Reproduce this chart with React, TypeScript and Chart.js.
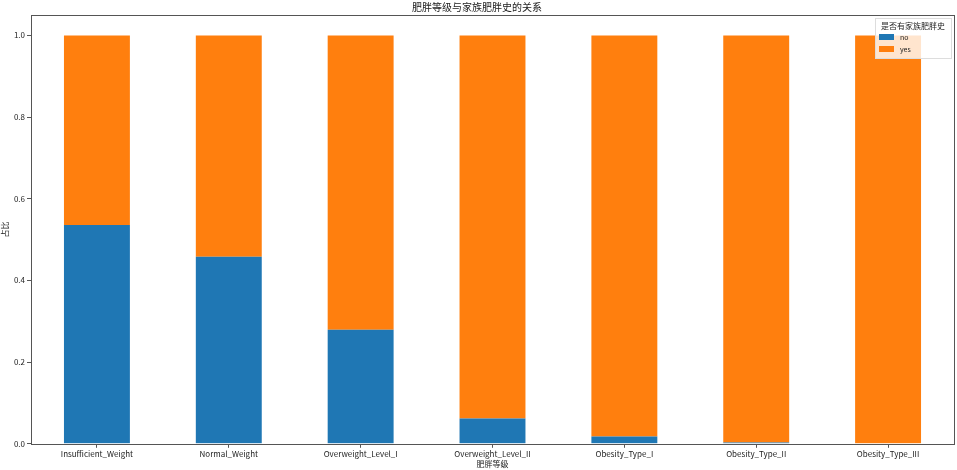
import { useEffect, useRef } from "react";
import { Chart, registerables } from "chart.js";

Chart.register(...registerables);

const categories = [
  "Insufficient_Weight",
  "Normal_Weight",
  "Overweight_Level_I",
  "Overweight_Level_II",
  "Obesity_Type_I",
  "Obesity_Type_II",
  "Obesity_Type_III",
];
const noValues = [0.536, 0.458, 0.279, 0.062, 0.018, 0.003, 0.0];
const yesValues = noValues.map((v) => 1 - v);
const yTicks = [0, 0.2, 0.4, 0.6, 0.8, 1.0];

const FONT = "'Noto Sans CJK SC', 'DejaVu Sans', sans-serif";

// 坐标框 + 图例
const framePlugin = {
  id: "frame",
  afterDraw(chart: Chart) {
    const { ctx, chartArea } = chart;
    ctx.save();
    ctx.strokeStyle = "#555";
    ctx.lineWidth = 1;
    ctx.strokeRect(
      Math.round(chartArea.left) + 0.5,
      Math.round(chartArea.top) + 0.5,
      Math.round(chartArea.right - chartArea.left),
      Math.round(chartArea.bottom - chartArea.top)
    );

    const w = 76;
    const h = 40;
    const x = chartArea.right - w - 3;
    const y = chartArea.top + 3;
    ctx.fillStyle = "rgba(255,255,255,0.8)";
    ctx.strokeStyle = "#ddd";
    ctx.fillRect(x, y, w, h);
    ctx.strokeRect(x + 0.5, y + 0.5, w, h);

    ctx.fillStyle = "#222";
    ctx.font = `8px ${FONT}`;
    ctx.textBaseline = "middle";
    ctx.textAlign = "center";
    ctx.fillText("是否有家族肥胖史", x + w / 2, y + 8);
    ctx.textAlign = "left";
    const items = [
      { label: "no", color: "#1f77b4" },
      { label: "yes", color: "#ff7f0e" },
    ];
    items.forEach((it, i) => {
      const yy = y + 19 + i * 12;
      ctx.fillStyle = it.color;
      ctx.fillRect(x + 4, yy - 3, 15, 6);
      ctx.fillStyle = "#222";
      ctx.font = `7px ${FONT}`;
      ctx.fillText(it.label, x + 25, yy);
    });
    ctx.restore();
  },
};

export default function App() {
  const canvasRef = useRef<HTMLCanvasElement>(null);

  useEffect(() => {
    document.body.style.margin = "0";
    if (!canvasRef.current) return;
    const chart = new Chart(canvasRef.current, {
      type: "bar",
      data: {
        labels: categories,
        datasets: [
          {
            label: "no",
            data: noValues,
            backgroundColor: "#1f77b4",
            barPercentage: 0.5,
            categoryPercentage: 1,
          },
          {
            label: "yes",
            data: yesValues,
            backgroundColor: "#ff7f0e",
            barPercentage: 0.5,
            categoryPercentage: 1,
          },
        ],
      },
      options: {
        animation: false,
        responsive: true,
        maintainAspectRatio: false,
        layout: { padding: { left: 0, right: 3, top: 0, bottom: 0 } },
        plugins: {
          legend: { display: false },
          tooltip: { enabled: false },
          title: {
            display: true,
            text: "肥胖等级与家族肥胖史的关系",
            color: "#222",
            font: { family: FONT, size: 10, weight: "normal" },
            padding: { top: 1, bottom: 2 },
          },
        },
        scales: {
          x: {
            stacked: true,
            grid: { drawOnChartArea: false, tickLength: 4, color: "#555", offset: false },
            border: { display: false },
            ticks: {
              color: "#222",
              font: { family: FONT, size: 8 },
              padding: 1,
              maxRotation: 0,
              autoSkip: false,
            },
            title: {
              display: true,
              text: "肥胖等级",
              color: "#222",
              font: { family: FONT, size: 8 },
              padding: { top: 0, bottom: 1 },
            },
          },
          y: {
            stacked: true,
            min: 0,
            max: 1.05,
            afterBuildTicks: (scale: any) => {
              scale.ticks = yTicks.map((v) => ({ value: v }));
            },
            afterFit: (scale: any) => {
              scale.width = 31;
            },
            grid: { drawOnChartArea: false, tickLength: 4, color: "#555" },
            border: { display: false },
            ticks: {
              color: "#222",
              font: { family: FONT, size: 8 },
              padding: 2,
              callback: (v: any) => Number(v).toFixed(1),
            },
            title: {
              display: true,
              text: "占比",
              color: "#222",
              font: { family: FONT, size: 8 },
              padding: 0,
            },
          },
        },
      },
      plugins: [framePlugin],
    });
    return () => chart.destroy();
  }, []);

  return (
    <div style={{ position: "fixed", left: 0, top: 0, width: 957, height: 470 }}>
      <canvas ref={canvasRef} />
    </div>
  );
}
